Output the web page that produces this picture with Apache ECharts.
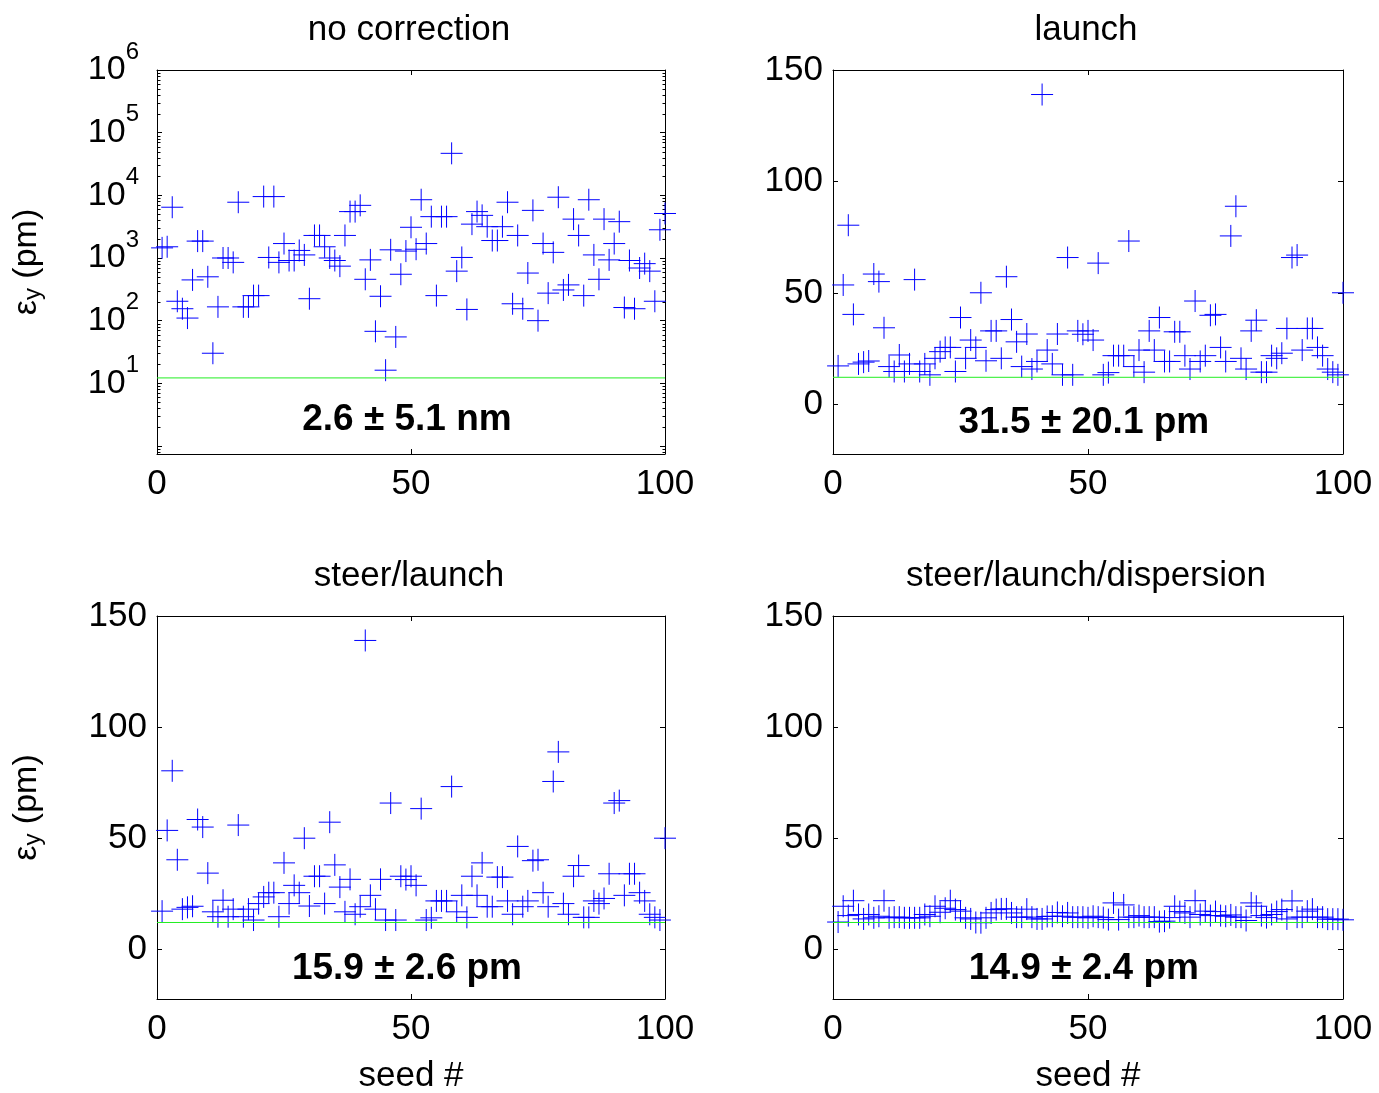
<!DOCTYPE html>
<html><head><meta charset="utf-8">
<script src="https://cdn.jsdelivr.net/npm/echarts@6/dist/echarts.min.js"></script>
<style>html,body{margin:0;padding:0;background:#fff}#c{width:1379px;height:1093px}</style>
</head><body><div id="c"></div><script>
const FONT = '"Liberation Sans", Arial, Helvetica, sans-serif';

// ---- data ----
const seeds = Array.from({length: 100}, (_, i) => i + 1);
const panelTitles = ['no correction', 'launch', 'steer/launch', 'steer/launch/dispersion'];
const panelNotes = ['2.6 \u00b1 5.1 nm', '31.5 \u00b1 20.1 pm', '15.9 \u00b1 2.6 pm', '14.9 \u00b1 2.4 pm'];
const xTicks = [0, 50, 100];
const linTicks = [0, 50, 100, 150];
const targetEmittance = 12.2;

const noCorrection = [1450,1510,6460,204,155,110,447,1860,1860,501,
  30.2,166,1000,1000,851,7760,166,166,251,251,
  9550,1020,9550,851,1700,912,912,1320,1120,224,
  2290,2290,1510,1000,912,741,2290,5500,5500,6920,
  457,933,67.6,245,16.2,1350,55,550,1290,3090,
  1380,8510,1700,4570,251,4570,4570,46800,617,1020,
  151,3470,5500,4790,3160,1900,1900,3160,7760,186,
  2290,155,575,5750,100,1700,275,1230,9330,309,
  372,4170,2290,251,8510,1120,457,4170,933,1700,
  3800,162,912,155,692,813,617,204,2820,5130];

const launch = [17.3,53.6,80.4,40.4,18.2,19.0,19.5,58.5,55.1,34.4,
  17.0,14.8,22.2,14.8,18.2,56.0,14.8,18.2,13.3,20.7,
  23.7,25.6,25.6,14.8,39.0,20.7,28.9,25.6,50.1,19.6,
  33.0,33.0,20.7,57.3,38.1,28.1,17.0,31.6,15.9,19.3,
  139,24.4,18.2,31.6,13.3,65.9,13.3,33.0,31.5,33.0,
  28.9,63.4,13.3,14.3,21.9,21.9,21.9,73.3,17.0,24.4,
  14.5,33.0,24.4,39.0,19.3,19.3,32.6,32.6,21.9,15.9,
  46.4,19.3,21.9,40.0,40.4,25.6,19.3,75.6,88.9,20.7,
  15.9,33.0,37.8,14.5,14.5,21.9,20.7,23.0,34.1,65.9,
  67.0,24.4,34.1,34.1,25.6,21.9,15.9,14.5,13.3,50.1];

const steerLaunch = [17.3,53.6,80.4,40.4,18.2,19.0,19.5,58.5,55.1,34.4,
  17.0,14.8,22.2,14.8,18.2,56.0,14.8,18.2,13.3,20.7,
  23.7,25.6,25.6,14.8,39.0,20.7,28.9,25.6,50.1,19.6,
  33.0,33.0,20.7,57.3,38.1,28.1,17.0,31.6,15.9,19.3,
  139,24.4,18.2,31.6,13.3,65.9,13.3,33.0,31.5,33.0,
  28.9,63.4,13.3,14.3,21.9,21.9,21.9,73.3,17.0,24.4,
  14.5,33.0,24.4,39.0,19.3,19.3,32.6,32.6,21.9,15.9,
  46.4,19.3,21.9,40.0,40.4,25.6,19.3,75.6,88.9,20.7,
  15.9,33.0,37.8,14.5,14.5,21.9,20.7,23.0,34.1,65.9,
  67.0,24.4,34.1,34.1,25.6,21.9,15.9,14.5,13.3,50.1];

const steerLaunchDispersion = [12.4,19.5,15.3,22.0,15.8,13.8,15.8,14.3,15.0,22.0,
  14.3,14.6,14.6,14.3,14.3,14.3,14.3,15.8,15.0,19.5,
  16.8,18.6,22.0,18.0,17.3,14.3,13.8,12.2,12.1,14.3,
  16.5,18.0,18.3,18.3,16.5,14.6,14.6,18.2,14.6,13.8,
  13.8,14.9,15.0,16.7,15.0,16.5,14.6,14.6,14.6,14.3,
  15.0,14.6,14.4,13.5,21.0,13.5,20.1,14.6,14.6,15.3,
  14.6,14.6,14.6,12.6,12.8,14.4,19.5,17.1,16.5,14.6,
  22.0,15.8,17.3,15.3,17.1,15.3,15.0,15.6,14.6,14.6,
  13.1,21.0,19.5,15.3,14.4,15.8,17.1,18.0,13.8,21.9,
  14.6,14.6,17.3,18.2,14.6,14.6,13.7,13.7,13.7,13.4];

// ---- layout ----
const panels = [
  {values: noCorrection, log: true, grid: {left: 157, top: 70, width: 508, height: 384}, noteY: 2.64, yName: true, xName: false},
  {values: launch, log: false, grid: {left: 833, top: 70, width: 510, height: 384}, noteY: -8.4, yName: false, xName: false},
  {values: steerLaunch, log: false, grid: {left: 157, top: 616, width: 508, height: 383}, noteY: -8.4, yName: true, xName: true},
  {values: steerLaunchDispersion, log: false, grid: {left: 833, top: 616, width: 510, height: 383}, noteY: -8.4, yName: false, xName: true}
];
const LOG_MIN = 0.745, LOG_MAX = 1e6, LIN_MIN = -22.2, LIN_MAX = 150;

const plusSymbol = 'path://M11,0L11,22M0,11L22,11';
const tickStyle = {show: true, inside: true, length: 5, lineStyle: {color: '#000', width: 1}};
const lineStyle = {show: true, onZero: false, lineStyle: {color: '#000', width: 1}};
const labelBase = {color: '#000', fontFamily: FONT, fontSize: 35};

const grid = [], xAxis = [], yAxis = [], series = [], graphic = [];

panels.forEach((p, i) => {
  grid.push(Object.assign({outerBoundsMode: 'none', containLabel: false}, p.grid));
  const xCommon = {gridIndex: i, type: 'value', min: xTicks[0], max: xTicks[2], interval: xTicks[1],
    axisLine: lineStyle, axisTick: tickStyle, splitLine: {show: false}};
  xAxis.push(Object.assign({}, xCommon, {position: 'bottom',
    axisLabel: Object.assign({show: true, margin: 13}, labelBase),
    name: p.xName ? 'seed #' : '', nameLocation: 'middle', nameGap: 60,
    nameTextStyle: Object.assign({}, labelBase)}));
  xAxis.push(Object.assign({}, xCommon, {position: 'top', axisLabel: {show: false}}));

  let yCommon;
  if (p.log) {
    yCommon = {gridIndex: i, type: 'log', logBase: 10, min: LOG_MIN, max: LOG_MAX,
      axisLine: lineStyle, axisTick: tickStyle, splitLine: {show: false}, minorTick: {show: false}};
  } else {
    yCommon = {gridIndex: i, type: 'value', min: LIN_MIN, max: LIN_MAX, minInterval: 50, maxInterval: 50, splitNumber: 3,
      axisLine: lineStyle, axisTick: tickStyle, splitLine: {show: false}};
  }
  const yLabel = p.log ? {
    show: true, margin: 18, showMinLabel: false, color: '#000', fontFamily: FONT, fontSize: 34,
    formatter: v => {
      const e = Math.log10(v), n = Math.round(e);
      if (n < 1 || Math.abs(e - n) > 1e-6) return '';
      return '{b|10}{s|' + n + '}';
    },
    rich: {
      b: {fontSize: 34, fontFamily: FONT, color: '#000', verticalAlign: 'middle'},
      s: {fontSize: 24, fontFamily: FONT, color: '#000', verticalAlign: 'middle', padding: [0, 0, 36, 0]}
    }
  } : Object.assign({show: true, margin: 10, showMinLabel: false,
    formatter: v => (linTicks.indexOf(v) >= 0 ? String(v) : '')}, labelBase);
  yAxis.push(Object.assign({}, yCommon, {position: 'left', axisLabel: yLabel,
    name: p.yName ? '{e|\u03b5}{s|y}{e| (pm)}' : '', nameLocation: 'middle', nameGap: 112, nameRotate: 90,
    nameTextStyle: {color: '#000', fontFamily: FONT, fontSize: 34,
      rich: {e: {fontSize: 34, fontFamily: FONT, color: '#000'},
             s: {fontSize: 24, fontFamily: FONT, color: '#000', padding: [12, 0, 0, 0]}}}}));
  yAxis.push(Object.assign({}, yCommon, {position: 'right', axisLabel: {show: false}}));

  const xi = 2 * i, yi = 2 * i;
  series.push({type: 'scatter', xAxisIndex: xi, yAxisIndex: yi, silent: true, z: 3,
    data: p.values.map((v, k) => [seeds[k], v]),
    symbol: plusSymbol, symbolSize: 22,
    itemStyle: {color: 'rgba(0,0,0,0)', borderColor: '#0000ff', borderWidth: 1, opacity: 1}});
  series.push({type: 'line', xAxisIndex: xi, yAxisIndex: yi, silent: true, z: 4,
    data: [[xTicks[0], targetEmittance], [xTicks[2], targetEmittance]],
    symbol: 'none', lineStyle: {color: '#22ee22', width: 1}});
  series.push({type: 'scatter', xAxisIndex: xi, yAxisIndex: yi, silent: true, z: 5,
    data: [[49.2, p.noteY]], symbolSize: 1, itemStyle: {color: 'rgba(0,0,0,0)', opacity: 1},
    label: {show: true, position: 'inside', formatter: panelNotes[i], fontSize: 37, opacity: 1,
      fontWeight: 'bold', fontFamily: FONT, color: '#000', textBorderWidth: 0}});

  if (p.log) {
    const minorVals = [];
    for (let e = -1; e < 6; e++) for (let k = 2; k <= 9; k++) {
      const v = k * Math.pow(10, e);
      if (v > LOG_MIN && v < LOG_MAX) minorVals.push(v);
    }
    const md = [];
    minorVals.forEach(v => { md.push([xTicks[0], v]); md.push([xTicks[2], v]); });
    series.push({type: 'custom', xAxisIndex: xi, yAxisIndex: yi, silent: true, clip: false, z: 2,
      data: md,
      renderItem: (params, api) => {
        const xv = api.value(0);
        const pt = api.coord([xv, api.value(1)]);
        const y = Math.round(pt[1]) + 0.5;
        const x0 = Math.round(pt[0]) + 0.5;
        const d = xv === xTicks[0] ? 3 : -3;
        return {type: 'line', shape: {x1: x0, y1: y, x2: x0 + d, y2: y},
          style: {stroke: '#000', lineWidth: 1}};
      }});
  }

  const cx = p.grid.left + p.grid.width / 2 - 2;
  graphic.push({type: 'text', x: cx, y: p.grid.top - 40,
    style: {text: panelTitles[i], fontSize: 35, fontFamily: FONT, fill: '#000',
      align: 'center', verticalAlign: 'middle', textAlign: 'center', textVerticalAlign: 'middle'}});
});

const chart = echarts.init(document.getElementById('c'), null, {renderer: 'canvas'});
chart.setOption({animation: false, backgroundColor: '#fff', grid, xAxis, yAxis, series, graphic});
</script></body></html>
